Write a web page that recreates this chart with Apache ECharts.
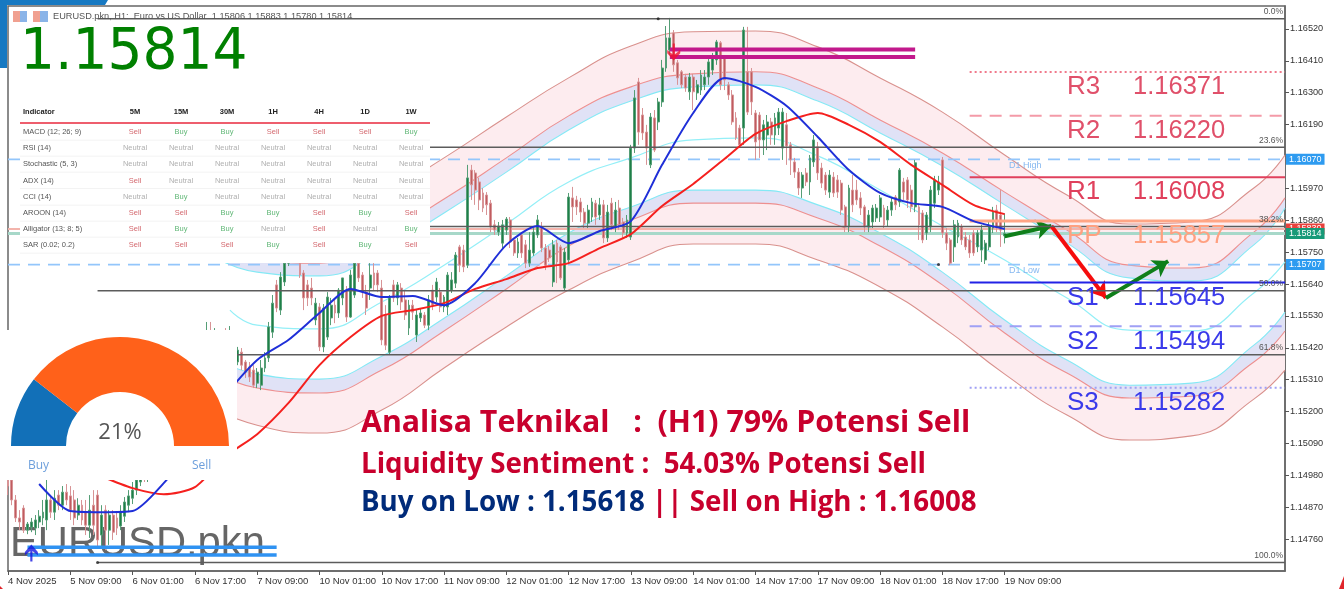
<!DOCTYPE html>
<html><head><meta charset="utf-8">
<style>html,body{margin:0;padding:0;background:#fff}#c{width:1344px;height:589px;filter:blur(0.5px)}</style>
<script src="https://cdn.jsdelivr.net/npm/echarts@6/dist/echarts.min.js"></script>
</head><body><div id="c"></div>
<script>
// ---------- data (16 bars per row) ----------
const opens=[
1.14991,1.14964,1.14895,1.14833,1.14867,1.14791,1.14801,1.14798,1.14819,1.14833,1.14826,1.14895,1.14853,1.14912,1.14877,1.14922,
1.14909,1.14895,1.14843,1.14877,1.14853,1.14808,1.14877,1.14912,1.14774,1.14860,1.14791,1.14843,1.14833,1.14805,1.14839,1.14877,
1.14901,1.14929,1.14957,1.14998,1.14970,1.15033,1.15067,1.15040,1.15102,1.15136,1.15108,1.15171,1.15198,1.15171,1.15240,1.15267,
1.15240,1.15309,1.15343,1.15395,1.15464,1.15429,1.15464,1.15412,1.15460,1.15412,1.15447,1.15371,1.15405,1.15371,1.15354,1.15343,
1.15298,1.15291,1.15350,1.15385,1.15474,1.15637,1.15550,1.15647,1.15712,1.15757,1.15740,1.15775,1.15678,1.15637,1.15626,1.15516,
1.15561,1.15423,1.15457,1.15523,1.15567,1.15540,1.15592,1.15619,1.15526,1.15602,1.15712,1.15671,1.15612,1.15626,1.15678,1.15678,
1.15626,1.15533,1.15405,1.15637,1.15592,1.15626,1.15585,1.15488,1.15567,1.15464,1.15523,1.15533,1.15498,1.15619,1.15595,1.15612,
1.15561,1.15561,1.15619,1.15643,1.15768,1.15757,1.15705,1.16033,1.16023,1.15992,1.15954,1.15947,1.15919,1.15844,1.15819,1.15781,
1.15826,1.15861,1.15792,1.15747,1.15809,1.15775,1.15712,1.15747,1.15809,1.15837,1.15764,1.15757,1.15647,1.15781,1.15768,1.15626,
1.15723,1.15937,1.15930,1.15923,1.15888,1.15850,1.15871,1.15919,1.15878,1.15913,1.15799,1.15919,1.15837,1.15902,1.15854,1.15816,
1.15802,1.16109,1.16337,1.16223,1.16164,1.16051,1.16213,1.16199,1.16268,1.16385,1.16447,1.16506,1.16403,1.16372,1.16354,1.16303,
1.16354,1.16299,1.16309,1.16327,1.16354,1.16378,1.16413,1.16472,1.16420,1.16327,1.16292,1.16213,1.16178,1.16178,1.16372,1.16372,
1.16230,1.16223,1.16137,1.16154,1.16199,1.16154,1.16178,1.16109,1.16189,1.16120,1.16061,1.16026,1.15971,1.16023,1.15992,1.16061,
1.16113,1.16040,1.16016,1.15957,1.16009,1.15999,1.15988,1.15906,1.15837,1.15964,1.15964,1.15937,1.15906,1.15837,1.15854,1.15868,
1.15871,1.15902,1.15861,1.15895,1.15940,1.15923,1.15992,1.15999,1.15964,1.15906,1.15906,1.15885,1.15816,1.15837,1.15919,1.15964,
1.16068,1.15816,1.15792,1.15768,1.15802,1.15837,1.15802,1.15792,1.15816,1.15768,1.15757,1.15723,1.15768,1.15833,1.15895,1.15878,1.15806];
const closes=[
1.14943,1.14895,1.14833,1.14819,1.14791,1.14812,1.14819,1.14826,1.14839,1.14853,1.14895,1.14853,1.14901,1.14877,1.14922,1.14895,
1.14860,1.14833,1.14877,1.14826,1.14808,1.14860,1.14808,1.14757,1.14843,1.14791,1.14843,1.14784,1.14798,1.14853,1.14888,1.14909,
1.14929,1.14964,1.14998,1.14970,1.15033,1.15067,1.15040,1.15102,1.15136,1.15108,1.15171,1.15198,1.15171,1.15240,1.15267,1.15240,
1.15309,1.15343,1.15395,1.15447,1.15429,1.15471,1.15412,1.15460,1.15412,1.15454,1.15405,1.15412,1.15360,1.15336,1.15319,1.15291,
1.15336,1.15350,1.15385,1.15492,1.15574,1.15557,1.15664,1.15712,1.15757,1.15740,1.15775,1.15671,1.15592,1.15592,1.15592,1.15574,
1.15423,1.15557,1.15595,1.15567,1.15540,1.15619,1.15661,1.15526,1.15671,1.15712,1.15661,1.15612,1.15557,1.15671,1.15637,1.15637,
1.15447,1.15429,1.15592,1.15592,1.15637,1.15578,1.15533,1.15567,1.15543,1.15533,1.15540,1.15498,1.15585,1.15567,1.15647,1.15561,
1.15595,1.15671,1.15654,1.15740,1.15705,1.15699,1.16006,1.15982,1.15964,1.15930,1.15902,1.15913,1.15837,1.15826,1.15840,1.15844,
1.15864,1.15785,1.15747,1.15785,1.15747,1.15712,1.15757,1.15819,1.15861,1.15764,1.15705,1.15730,1.15775,1.15716,1.15661,1.15750,
1.15940,1.15906,1.15906,1.15888,1.15850,1.15895,1.15923,1.15871,1.15913,1.15799,1.15888,1.15844,1.15895,1.15844,1.15816,1.15861,
1.16109,1.16282,1.16164,1.16161,1.16109,1.16216,1.16102,1.16268,1.16385,1.16489,1.16489,1.16396,1.16351,1.16327,1.16316,1.16354,
1.16303,1.16327,1.16361,1.16354,1.16406,1.16420,1.16475,1.16327,1.16344,1.16292,1.16199,1.16144,1.16120,1.16516,1.16233,1.16268,
1.16130,1.16137,1.16189,1.16199,1.16154,1.16213,1.16233,1.16233,1.16116,1.16068,1.16026,1.15971,1.16016,1.15992,1.16075,1.16137,
1.16023,1.15988,1.15964,1.16016,1.15954,1.15957,1.15895,1.15837,1.15971,1.15913,1.15930,1.15902,1.15837,1.15878,1.15902,1.15902,
1.15937,1.15844,1.15895,1.15923,1.15913,1.16033,1.15957,1.15930,1.15906,1.16058,1.15844,1.15792,1.15878,1.15964,1.15999,1.15992,
1.15816,1.15781,1.15712,1.15844,1.15850,1.15792,1.15768,1.15747,1.15747,1.15816,1.15826,1.15781,1.15837,1.15888,1.15837,1.15826,1.15814];
const lows=[
1.14912,1.14877,1.14819,1.14791,1.14781,1.14777,1.14784,1.14774,1.14798,1.14808,1.14791,1.14833,1.14826,1.14860,1.14860,1.14877,
1.14826,1.14808,1.14826,1.14808,1.14774,1.14764,1.14774,1.14736,1.14729,1.14722,1.14740,1.14757,1.14774,1.14791,1.14819,1.14853,
1.14881,1.14912,1.14943,1.14957,1.14957,1.15019,1.15026,1.15026,1.15088,1.15095,1.15095,1.15157,1.15157,1.15157,1.15226,1.15226,
1.15226,1.15295,1.15329,1.15378,1.15412,1.15412,1.15395,1.15395,1.15395,1.15395,1.15385,1.15360,1.15343,1.15316,1.15302,1.15281,
1.15281,1.15274,1.15336,1.15371,1.15454,1.15543,1.15533,1.15633,1.15702,1.15730,1.15723,1.15661,1.15550,1.15564,1.15567,1.15498,
1.15409,1.15405,1.15447,1.15498,1.15505,1.15523,1.15567,1.15509,1.15523,1.15592,1.15647,1.15592,1.15533,1.15585,1.15619,1.15612,
1.15429,1.15412,1.15398,1.15578,1.15567,1.15550,1.15516,1.15464,1.15516,1.15440,1.15509,1.15488,1.15481,1.15550,1.15578,1.15543,
1.15543,1.15533,1.15609,1.15626,1.15681,1.15681,1.15695,1.15930,1.15913,1.15895,1.15888,1.15878,1.15819,1.15809,1.15806,1.15764,
1.15809,1.15764,1.15737,1.15730,1.15730,1.15695,1.15699,1.15737,1.15799,1.15750,1.15688,1.15716,1.15630,1.15643,1.15654,1.15619,
1.15709,1.15854,1.15878,1.15854,1.15833,1.15833,1.15854,1.15844,1.15861,1.15781,1.15785,1.15826,1.15819,1.15826,1.15799,1.15799,
1.15792,1.16092,1.16120,1.16137,1.16051,1.16040,1.16095,1.16171,1.16251,1.16372,1.16430,1.16372,1.16327,1.16316,1.16303,1.16275,
1.16240,1.16275,1.16292,1.16309,1.16327,1.16361,1.16396,1.16309,1.16309,1.16275,1.16189,1.16137,1.16109,1.16120,1.16223,1.16223,
1.16068,1.16075,1.16085,1.16102,1.16120,1.16120,1.16154,1.16068,1.16051,1.16016,1.16006,1.15947,1.15937,1.15978,1.15947,1.16044,
1.15999,1.15971,1.15947,1.15937,1.15940,1.15937,1.15878,1.15819,1.15819,1.15888,1.15913,1.15878,1.15819,1.15819,1.15833,1.15854,
1.15854,1.15833,1.15837,1.15875,1.15895,1.15906,1.15930,1.15902,1.15888,1.15888,1.15792,1.15781,1.15792,1.15819,1.15902,1.15947,
1.15799,1.15757,1.15705,1.15716,1.15781,1.15775,1.15757,1.15730,1.15737,1.15750,1.15716,1.15709,1.15757,1.15816,1.15819,1.15768,1.15780];
const highs=[
1.15033,1.14981,1.14912,1.14860,1.14877,1.14819,1.14833,1.14843,1.14860,1.14895,1.14971,1.14912,1.14929,1.14929,1.14943,1.14950,
1.14943,1.14929,1.14901,1.14895,1.14895,1.14912,1.14929,1.14929,1.14877,1.14877,1.14860,1.14860,1.14853,1.14877,1.14905,1.14929,
1.14957,1.14977,1.15012,1.15012,1.15046,1.15081,1.15081,1.15115,1.15150,1.15150,1.15184,1.15212,1.15212,1.15253,1.15281,1.15281,
1.15322,1.15357,1.15412,1.15509,1.15509,1.15488,1.15481,1.15478,1.15488,1.15495,1.15460,1.15423,1.15419,1.15378,1.15371,1.15360,
1.15350,1.15378,1.15405,1.15509,1.15602,1.15654,1.15681,1.15740,1.15764,1.15771,1.15785,1.15785,1.15688,1.15654,1.15661,1.15592,
1.15574,1.15571,1.15612,1.15592,1.15585,1.15626,1.15661,1.15633,1.15688,1.15723,1.15716,1.15681,1.15637,1.15712,1.15712,1.15688,
1.15654,1.15567,1.15602,1.15654,1.15647,1.15643,1.15619,1.15585,1.15585,1.15550,1.15557,1.15543,1.15602,1.15637,1.15661,1.15626,
1.15602,1.15681,1.15681,1.15750,1.15775,1.15775,1.16051,1.16051,1.16033,1.16006,1.15971,1.15957,1.15930,1.15861,1.15854,1.15861,
1.15871,1.15871,1.15799,1.15799,1.15819,1.15792,1.15819,1.15833,1.15878,1.15854,1.15778,1.15771,1.15792,1.15792,1.15775,1.15764,
1.15954,1.15975,1.15944,1.15937,1.15902,1.15913,1.15937,1.15930,1.15937,1.15930,1.15913,1.15937,1.15923,1.15930,1.15868,1.15878,
1.16120,1.16309,1.16351,1.16247,1.16189,1.16230,1.16240,1.16282,1.16413,1.16530,1.16558,1.16516,1.16413,1.16378,1.16365,1.16368,
1.16365,1.16344,1.16378,1.16378,1.16420,1.16437,1.16482,1.16478,1.16430,1.16337,1.16309,1.16233,1.16189,1.16527,1.16527,1.16385,
1.16240,1.16233,1.16206,1.16223,1.16213,1.16230,1.16247,1.16247,1.16230,1.16130,1.16075,1.16040,1.16026,1.16040,1.16085,1.16154,
1.16130,1.16058,1.16026,1.16033,1.16026,1.16016,1.15999,1.15913,1.15982,1.16016,1.15999,1.15957,1.15913,1.15895,1.15913,1.15916,
1.15947,1.15913,1.15909,1.15937,1.15947,1.16040,1.16006,1.16009,1.15982,1.16068,1.15919,1.15895,1.15888,1.15978,1.16013,1.16013,
1.16078,1.15833,1.15799,1.15861,1.15861,1.15847,1.15819,1.15809,1.15826,1.15826,1.15844,1.15792,1.15854,1.15906,1.15913,1.15964,1.15883];

const maBars8=[8,16,24,32,40,48,56,64,72,80,88,96,104,112,120,128,136,144,152,160,168,176,184,192,200,208,216,224,232,240,248,256];
const blueMA=[1.14950,1.14857,1.14853,1.14857,1.14953,1.15085,1.15257,1.15378,1.15447,1.15540,1.15623,1.15595,1.15599,1.15567,1.15643,1.15775,1.15840,1.15781,1.15823,1.15857,1.16051,1.16230,1.16351,1.16320,1.16254,1.16147,1.16033,1.15954,1.15919,1.15906,1.15857,1.15830];
const redMA=[1.14977,1.14936,1.14915,1.14939,1.15046,1.15122,1.15229,1.15360,1.15457,1.15530,1.15550,1.15574,1.15623,1.15657,1.15695,1.15712,1.15764,1.15812,1.15909,1.15985,1.16071,1.16158,1.16202,1.16230,1.16189,1.16130,1.16051,1.15982,1.15913,1.15881];

const bandBars=[48,64,80,96,112,128,144,160,176,192,208,224,240,256,272,288,304,320,328];
const centerBars=[57,64,80,96,112,128,144,160,176,192,208,224,240,256,272,288,304,320,328];
const bandCenter=[1.15550,1.15498,1.15485,1.15578,1.15705,1.15847,1.15992,1.16075,1.16137,1.16144,1.16082,1.15964,1.15840,1.15723,1.15592,1.15481,1.15478,1.15609,1.15716];
const upCyan=[1.15775,1.15681,1.15668,1.15757,1.15885,1.16026,1.16171,1.16271,1.16320,1.16327,1.16271,1.16161,1.16047,1.15913,1.15781,1.15661,1.15650,1.15775,1.15902];
const upInner=[1.15819,1.15726,1.15712,1.15806,1.15933,1.16075,1.16220,1.16320,1.16365,1.16372,1.16316,1.16206,1.16092,1.15957,1.15826,1.15705,1.15695,1.15819,1.15937];
const upOuter=[1.15957,1.15861,1.15854,1.15947,1.16075,1.16216,1.16351,1.16461,1.16510,1.16513,1.16458,1.16351,1.16233,1.16085,1.15947,1.15847,1.15854,1.15971,1.16085];
const lowCyan=[1.15429,1.15329,1.15312,1.15391,1.15522,1.15668,1.15816,1.15906,1.15964,1.15964,1.15913,1.15816,1.15681,1.15516,1.15378,1.15291,1.15298,1.15429,1.15543];
const lowInner=[1.15385,1.15281,1.15264,1.15343,1.15478,1.15623,1.15771,1.15861,1.15919,1.15919,1.15868,1.15771,1.15637,1.15471,1.15333,1.15247,1.15253,1.15371,1.15478];
const lowOuter=[1.15240,1.15153,1.15126,1.15205,1.15350,1.15492,1.15619,1.15716,1.15778,1.15778,1.15723,1.15630,1.15492,1.15329,1.15188,1.15102,1.15116,1.15243,1.15343];

const axisTop=1.16599, axisBottom=1.14650;
const priceTicks=[1.14760,1.14870,1.14980,1.15090,1.15200,1.15310,1.15420,1.15530,1.15640,1.15750,1.15860,1.15970,1.16190,1.16300,1.16410,1.16520];
const timeLabels=['4 Nov 2025','5 Nov 09:00','6 Nov 01:00','6 Nov 17:00','7 Nov 09:00','10 Nov 01:00','10 Nov 17:00','11 Nov 09:00','12 Nov 01:00','12 Nov 17:00','13 Nov 09:00','14 Nov 01:00','14 Nov 17:00','17 Nov 09:00','18 Nov 01:00','18 Nov 17:00','19 Nov 09:00'];

const fibStartBar=23;
const fibPrices=[1.16555,1.16112,1.15838,1.15617,1.15396,1.14679];
const fibNames=['0.0%','23.6%','38.2%','50.0%','61.8%','100.0%'];
const d1High=1.16070, d1Low=1.15707, currentPrice=1.15814, askPrice=1.15830;
const pivotNames=['R3','R2','R1','PP','S1','S2','S3'];
const pivotValues=[1.16371,1.16220,1.16008,1.15857,1.15645,1.15494,1.15282];
const pivotStartBar=247;
const zoneUpper=[1.16449,1.16423], zoneUpperBars=[170,233];
const zoneLower=[1.14732,1.14705], zoneLowerBars=[5,69];
const arrowPath1=[[256,1.15805],[268,1.15840]], arrowPath2=[[268,1.15840],[282,1.15592]], arrowPath3=[[282,1.15592],[298,1.15719]];
const signalDown=[171,1.16440], signalUp=[6,1.14712];
const anchorPoints=[[167,1.16555],[23,1.14679],[239,1.15707]];

const gaugeValues=[21,79];
const tableCols=['5M','15M','30M','1H','4H','1D','1W'];
const tableNames=['MACD (12; 26; 9)','RSI (14)','Stochastic (5, 3)','ADX (14)','CCI (14)','AROON (14)','Alligator (13; 8; 5)','SAR (0.02; 0.2)'];
const tableCells=[
['Sell','Buy','Buy','Sell','Sell','Sell','Buy'],
['Neutral','Neutral','Neutral','Neutral','Neutral','Neutral','Neutral'],
['Neutral','Neutral','Neutral','Neutral','Neutral','Neutral','Neutral'],
['Sell','Neutral','Neutral','Neutral','Neutral','Neutral','Neutral'],
['Neutral','Buy','Neutral','Neutral','Neutral','Neutral','Neutral'],
['Sell','Sell','Buy','Buy','Sell','Buy','Sell'],
['Sell','Buy','Buy','Neutral','Sell','Neutral','Buy'],
['Sell','Sell','Sell','Buy','Sell','Buy','Sell']];

// ---------- layout and style ----------
const BAR_COUNT=329;
const categories=Array.from({length:BAR_COUNT},(_,i)=>(i%16===0&&timeLabels[i/16])||('bar'+i));
const isTimeTick=i=>i%16===0&&i/16<timeLabels.length;
const pairs=(xs,ys)=>xs.map((x,k)=>[x,ys[k]]);
const diff=(a,b)=>a.map((v,k)=>+(v-b[k]).toFixed(5));

const C_OUT='#d9918d',C_IN='#ee8f8f',C_CY='#84e9f5',F_PINK='#fdecef',F_LAV='#e0e2f6';
function bandLine(name,data,color,stack,fill,width,xs){
  const s={type:'line',name,data:pairs(xs||bandBars,data),stack,smooth:0.5,symbol:'none',silent:true,z:2,
    lineStyle:{color,width:width||1.1},animation:false};
  if(fill)s.areaStyle={color:fill,opacity:1};
  return s;
}
function hline(price,from,to,color,width,type,z,tag){
  const s={type:'line',data:[[from,price],[to,price]],symbol:'none',silent:true,z:z||3,animation:false,
    lineStyle:{color,width,type:type||'solid'}};
  if(tag)s.endLabel={show:true,distance:1,formatter:tag.text,color:'#fff',fontFamily:'Liberation Sans',fontSize:9,padding:[1,3,1,3],backgroundColor:tag.bg};
  return s;
}
const LAST=BAR_COUNT-1;
const pivotStyles=[['#f07a8c',2,[2,3]],['#f49aa8',2,[12,8]],['#e0405c',2,'solid'],['#ffa585',3,'solid'],['#2222e6',2,'solid'],['#a0a0f5',2,[12,8]],['#a0a0f5',2,[2,3]]];

const series=[
  bandLine('upCyan',upCyan,C_CY,'up'),
  bandLine('upInner',diff(upInner,upCyan),C_IN,'up',F_LAV),
  bandLine('upOuter',diff(upOuter,upInner),C_OUT,'up',F_PINK),
  bandLine('lowOuter',lowOuter,C_OUT,'low'),
  bandLine('lowInner',diff(lowInner,lowOuter),C_IN,'low',F_PINK),
  bandLine('lowCyan',diff(lowCyan,lowInner),C_CY,'low',F_LAV),
  bandLine('center',bandCenter,'#94eff7',undefined,undefined,1.2,centerBars),
  {type:'candlestick',data:opens.map((o,i)=>[o,closes[i],lows[i],highs[i]]),barWidth:2.4,z:4,silent:true,animation:false,
    itemStyle:{color:'#1f8048',color0:'#c05c60',borderColor:'#559e76',borderColor0:'#d89496',borderWidth:1}},
  {type:'line',data:pairs(maBars8.slice(2),redMA),smooth:0.25,symbol:'none',silent:true,z:6,animation:false,lineStyle:{color:'#f5201e',width:2}},
  {type:'line',data:pairs(maBars8,blueMA),smooth:0.25,symbol:'none',silent:true,z:6,animation:false,lineStyle:{color:'#1f2fd8',width:2}},
  hline(askPrice,0,LAST,'#f3b4ac',2,'solid',3,{text:'1.15830',bg:'#e8413c'}),
  hline(currentPrice,0,LAST,'#a7d8c9',3,'solid',3,{text:'1.15814',bg:'#179a78'}),
  hline(d1High,0,LAST,'#93c6fb',1.6,[12,8],3,{text:'1.16070',bg:'#2e9bf0'}),
  hline(d1Low,0,LAST,'#93c6fb',1.6,[12,8],3,{text:'1.15707',bg:'#2e9bf0'}),
  ...fibPrices.map(p=>hline(p,fibStartBar,LAST,'#5c5c5c',1.5,'solid',5)),
  ...pivotValues.map((p,k)=>hline(p,pivotStartBar,LAST,pivotStyles[k][0],pivotStyles[k][1],pivotStyles[k][2],5)),
  ...zoneUpper.map(p=>hline(p,zoneUpperBars[0],zoneUpperBars[1],'#c2198c',4,'solid',6)),
  ...zoneLower.map(p=>hline(p,zoneLowerBars[0],zoneLowerBars[1],'#2f92f2',3.5,'solid',6)),
  {type:'scatter',data:anchorPoints,symbolSize:3,silent:true,z:7,animation:false,itemStyle:{color:'#222'}},
  {type:'scatter',data:[signalDown],symbol:'path://M5 0L7 0L7 10L12 6L12 9L6 16L0 9L0 6L5 10Z',symbolSize:[13,17],silent:true,z:7,animation:false,itemStyle:{color:'#f01030'}},
  {type:'scatter',data:[signalUp],symbol:'path://M5 16L7 16L7 6L12 10L12 7L6 0L0 7L0 10L5 6Z',symbolSize:[13,17],silent:true,z:7,animation:false,itemStyle:{color:'#1515e0'}},
  {type:'line',data:[],silent:true,z:8,animation:false,markLine:{silent:true,animation:false,symbol:['none','arrow'],symbolSize:15,label:{show:false},data:[
    [{coord:arrowPath1[0],lineStyle:{color:'#0f7f1a',width:4,type:'solid'}},{coord:arrowPath1[1]}],
    [{coord:arrowPath2[0],lineStyle:{color:'#f50d0d',width:4,type:'solid'}},{coord:arrowPath2[1]}],
    [{coord:arrowPath3[0],lineStyle:{color:'#0f7f1a',width:4,type:'solid'}},{coord:arrowPath3[1]}]]}},
  {type:'pie',center:[120,446],radius:[54,109],startAngle:180,z:101,silent:true,animation:false,label:{show:false},labelLine:{show:false},
    data:[{value:gaugeValues[0],itemStyle:{color:'#1270b8'}},{value:gaugeValues[1],itemStyle:{color:'#ff611a'}},
      {value:gaugeValues[0]+gaugeValues[1],itemStyle:{color:'rgba(0,0,0,0)'}}]}
];

// ---------- page furniture ----------
const g=[];
const rect=(x,y,w,h,fill,z)=>g.push({type:'rect',z:z,silent:true,shape:{x,y,width:w,height:h},style:{fill}});
const txt=(x,y,text,o)=>g.push({type:'text',z:o.z||60,silent:true,x,y,scaleY:o.scaleY||1,style:Object.assign({text,fill:o.fill||'#333',fontFamily:o.family||'Liberation Sans',fontSize:o.size,fontWeight:o.weight||'normal',align:o.align||'left',verticalAlign:'middle'},o.rich?{rich:o.rich}:{})});
const poly=(pts,fill,z)=>g.push({type:'polygon',z:z||60,silent:true,shape:{points:pts},style:{fill}});

rect(20,100,410,163,'#fff',100);
rect(0,330,237,150,'#fff',100);
poly([[0,0],[108,0],[105,5],[7,5],[7,68],[0,68]],'#1779c2',110);
poly([[1344,576],[1344,589],[1339,589]],'#e0252b',110);
poly([[0,586],[3,589],[0,589]],'#e0252b',110);
rect(13,11,7,11,'#f0a090',60);rect(20,11,7,11,'#8ab4e8',60);
rect(33,11,7,11,'#f0a090',60);rect(40,11,8,11,'#8ab4e8',60);
txt(53,16,'EURUSD.pkn, H1:  Euro vs US Dollar  1.15806 1.15883 1.15780 1.15814',{size:9.2,fill:'#555'});
txt(20,54,'1.15814',{size:55,fill:'#008000',family:'DejaVu Sans',scaleY:1.05,z:105});

// table
const colX=[135,181,227,273,319,365,411], rowY=[132,148,164,180.5,197,213,229,245];
txt(23,112,'Indicator',{size:7.5,weight:'bold',fill:'#222',z:102});
tableCols.forEach((c,i)=>txt(colX[i],112,c,{size:7.5,weight:'bold',fill:'#222',align:'center',z:102}));
rect(20,122.2,410,1.6,'#e8283c',102);
const cellColor={Sell:'#d46a70',Buy:'#62b878',Neutral:'#b0b0b0'};
tableNames.forEach((n,r)=>{
  txt(23,rowY[r],n,{size:7.5,fill:'#555',z:102});
  tableCells[r].forEach((v,c)=>txt(colX[c],rowY[r],v,{size:7.5,fill:cellColor[v],align:'center',z:102}));
  rect(20,rowY[r]+7.8,410,0.8,'#efefef',102);
});

// gauge text
txt(120,433,'21%',{size:22,fill:'#555',align:'center',family:'Open Sans',z:103});
txt(28,466,'Buy',{size:12,fill:'#6d9fdc',family:'Open Sans',z:103});
txt(192,466,'Sell',{size:12,fill:'#6d9fdc',family:'Open Sans',z:103});

// chart notes
txt(10,545,'EURUSD.pkn',{size:41.7,fill:'#666',z:1});
const rightEdge=1283;
[12,141,220,284,348,556].forEach((y,i)=>txt(rightEdge,y,fibNames[i],{size:8.5,fill:'#555',align:'right'}));
txt(1009,166,'D1 High',{size:9,fill:'#86b8f0'});
txt(1009,271,'D1 Low',{size:9,fill:'#86b8f0'});
const pivotY=[87,130.5,192,236,297.5,341.5,403];
const pivotFill=['#e0506a','#e0506a','#e0405c','#ffa080','#3a3aea','#3a3aea','#3a3aea'];
pivotNames.forEach((n,i)=>{
  txt(1067,pivotY[i],n,{size:26,fill:pivotFill[i]});
  txt(1133,pivotY[i],pivotValues[i].toFixed(5),{size:25.5,fill:pivotFill[i]});
});
const RED='#c8002d',NAVY='#002b7a';
txt(361,423,'Analisa Teknikal   :  (H1) 79% Potensi Sell',{size:30.3,weight:'bold',fill:RED,family:'Open Sans'});
txt(361,465,'Liquidity Sentiment :  54.03% Potensi Sell',{size:27.7,weight:'bold',fill:RED,family:'Open Sans'});
txt(361,503,'{a|Buy on Low : 1.15618 }{b||| Sell on High : 1.16008}',{size:27.7,weight:'bold',family:'Open Sans',
  rich:{a:{fill:NAVY,fontSize:27.7,fontWeight:'bold',fontFamily:'Open Sans'},b:{fill:RED,fontSize:27.7,fontWeight:'bold',fontFamily:'Open Sans'}}});

const chart=echarts.init(document.getElementById('c'),null,{renderer:'canvas'});
chart.setOption({
  animation:false,backgroundColor:'#fff',
  grid:{left:8,top:6,width:1277,height:565,show:true,borderColor:'#666',borderWidth:1.5,backgroundColor:'#fff'},
  xAxis:{type:'category',data:categories,boundaryGap:false,
    axisLine:{lineStyle:{color:'#666',width:1.5}},
    axisTick:{show:true,length:4,interval:(i)=>isTimeTick(i),lineStyle:{color:'#555'}},
    axisLabel:{show:true,interval:(i)=>isTimeTick(i),align:'left',margin:5,color:'#333',fontFamily:'Liberation Sans',fontSize:9.5,
      formatter:(v)=>timeLabels.includes(v)?v:''},
    splitLine:{show:false}},
  yAxis:{type:'value',position:'right',min:axisBottom,max:axisTop,scale:true,
    axisLine:{show:true,lineStyle:{color:'#666',width:1.5}},
    axisTick:{show:true,length:4,customValues:priceTicks,lineStyle:{color:'#555'}},
    axisLabel:{show:true,margin:5,customValues:priceTicks,color:'#333',fontFamily:'Liberation Sans',fontSize:9.2,formatter:(v)=>v.toFixed(5)},
    splitLine:{show:false}},
  series,
  graphic:{elements:g}
});
</script></body></html>
